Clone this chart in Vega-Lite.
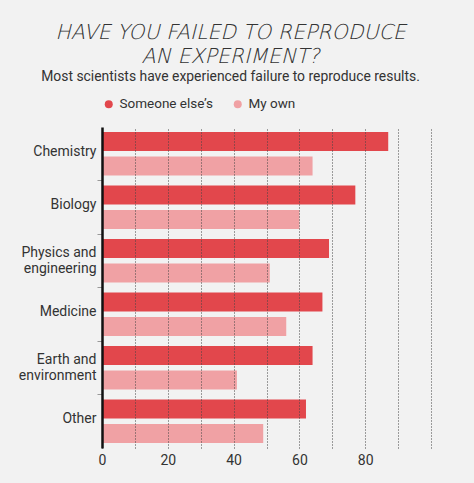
{
  "$schema": "https://vega.github.io/schema/vega-lite/v6.json",
  "width": 329,
  "height": 321,
  "autosize": "none",
  "padding": {"left": 102, "top": 127, "right": 43, "bottom": 35},
  "background": "#f2f2f2",
  "config": {"view": {"stroke": null}, "font": "Roboto"},
  "title": {
    "text": ["HAVE YOU FAILED TO REPRODUCE", "AN EXPERIMENT?"],
    "subtitle": "Most scientists have experienced failure to reproduce results.",
    "anchor": "middle",
    "frame": "group",
    "dx": -36,
    "font": "'DejaVu Sans ExtraLight', 'DejaVu Sans Light', 'DejaVu Sans'",
    "fontSize": 20.5,
    "fontStyle": "italic",
    "fontWeight": 200,
    "color": "#333",
    "lineHeight": 23.5,
    "subtitleFont": "Roboto",
    "subtitleFontSize": 13.9,
    "subtitleColor": "#333",
    "subtitlePadding": 3,
    "offset": 13
  },
  "data": {
    "values": [
      {"field": "Chemistry", "who": "Someone else’s", "pct": 87},
      {"field": "Chemistry", "who": "My own", "pct": 64},
      {"field": "Biology", "who": "Someone else’s", "pct": 77},
      {"field": "Biology", "who": "My own", "pct": 60},
      {"field": "Physics and engineering", "who": "Someone else’s", "pct": 69},
      {"field": "Physics and engineering", "who": "My own", "pct": 51},
      {"field": "Medicine", "who": "Someone else’s", "pct": 67},
      {"field": "Medicine", "who": "My own", "pct": 56},
      {"field": "Earth and environment", "who": "Someone else’s", "pct": 64},
      {"field": "Earth and environment", "who": "My own", "pct": 41},
      {"field": "Other", "who": "Someone else’s", "pct": 62},
      {"field": "Other", "who": "My own", "pct": 49}
    ]
  },
  "mark": {"type": "bar"},
  "encoding": {
    "y": {
      "field": "field",
      "type": "nominal",
      "sort": ["Chemistry", "Biology", "Physics and engineering", "Medicine", "Earth and environment", "Other"],
      "scale": {"paddingInner": 0, "paddingOuter": 0},
      "axis": {
        "title": null,
        "domain": true,
        "domainColor": "#111",
        "domainWidth": 2.5,
        "ticks": true,
        "tickSize": 5,
        "tickColor": "#999",
        "tickWidth": 1,
        "bandPosition": 0,
        "tickOpacity": {"condition": {"test": "datum.value == 'Chemistry'", "value": 0}, "value": 1},
        "labelFontSize": 14,
        "labelColor": "#333",
        "labelPadding": 1,
        "labelLineHeight": 16,
        "labelOffset": {"condition": {"test": "indexof(datum.value, ' and ') > 0", "value": -8}, "value": -2},
        "labelExpr": "split(replace(datum.label, ' and ', ' and|'), '|')",
        "grid": false,
        "zindex": 1
      }
    },
    "yOffset": {
      "field": "who",
      "sort": ["Someone else’s", "My own"],
      "scale": {"paddingInner": 0.22, "paddingOuter": 0.2}
    },
    "x": {
      "field": "pct",
      "type": "quantitative",
      "scale": {"domain": [0, 100]},
      "axis": {
        "title": null,
        "values": [0, 10, 20, 30, 40, 50, 60, 70, 80, 90, 100],
        "grid": true,
        "gridDash": [1, 2],
        "gridColor": "#444",
        "gridWidth": 1,
        "domain": false,
        "ticks": false,
        "labelFlush": false,
        "labelExpr": "datum.value % 20 == 0 && datum.value < 100 ? datum.label : ''",
        "labelFontSize": 14,
        "labelColor": "#333",
        "labelPadding": 5,
        "zindex": 1
      }
    },
    "color": {
      "field": "who",
      "type": "nominal",
      "sort": ["Someone else’s", "My own"],
      "scale": {"range": ["#e2474c", "#f0a1a4"]},
      "legend": {
        "title": null,
        "orient": "none",
        "direction": "horizontal",
        "legendX": 0,
        "legendY": -30,
        "symbolType": "circle",
        "symbolSize": 64,
        "symbolStrokeWidth": 0,
        "labelFontSize": 13.5,
        "labelColor": "#333",
        "labelOffset": 4,
        "columnPadding": 18
      }
    }
  }
}
